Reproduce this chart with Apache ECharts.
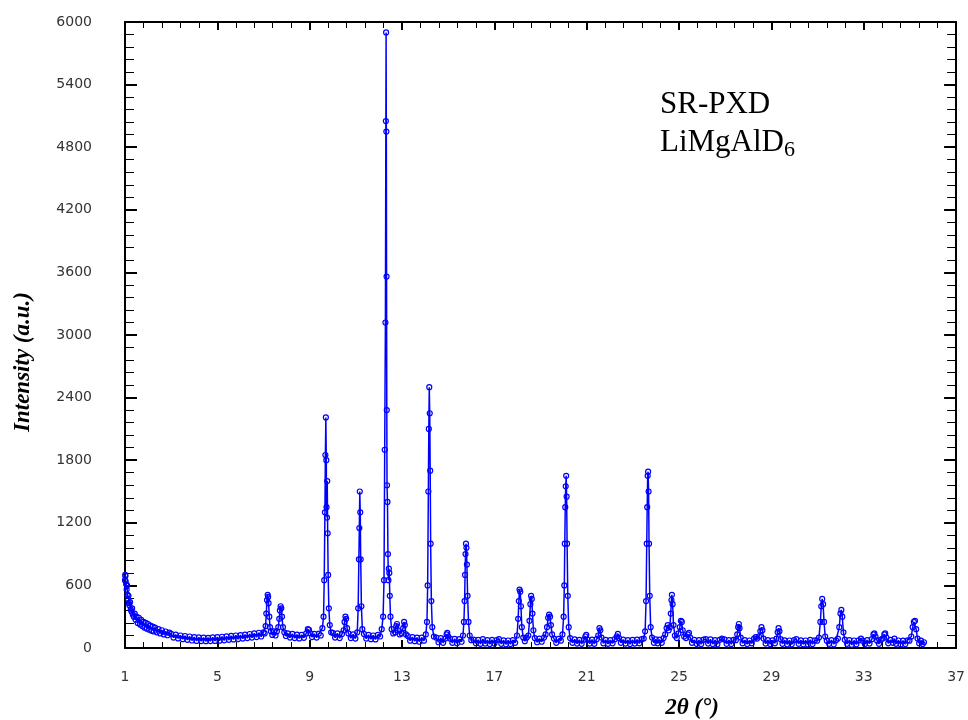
<!DOCTYPE html>
<html>
<head>
<meta charset="utf-8">
<script src="https://cdn.jsdelivr.net/npm/echarts@6/dist/echarts.min.js"></script>
<style>html,body{margin:0;padding:0;background:#fff;}#chart{width:968px;height:720px;}</style>
</head>
<body>
<div id="chart"></div>
<script>
// [2θ (°), intensity (a.u.)] pairs, split by region
const regionLow = [
[1.00,650],[1.01,700],[1.02,690],[1.03,640],[1.05,610],[1.07,560],[1.09,600],[1.11,510],[1.13,470],[1.15,500],
[1.17,430],[1.19,410],[1.22,440],[1.25,370],[1.28,350],[1.31,380],[1.34,320],[1.38,300],[1.42,330],[1.46,270],
[1.50,300],[1.55,240],[1.60,290],[1.65,225],[1.70,270],[1.75,210],[1.80,250],[1.85,195],[1.90,240],[1.95,185],
[2.00,230],[2.05,175],[2.10,215],[2.15,165],[2.20,205],[2.25,158],[2.30,195],[2.38,150],[2.45,180],[2.52,140],
[2.60,170],[2.68,130],[2.76,158],[2.84,122],[2.92,148],[3.00,135],[3.10,100],[3.20,128],[3.30,92],[3.40,120],
[3.50,85],[3.60,115],[3.70,78],[3.80,110],[3.90,72],[4.00,105],[4.10,68],[4.20,102],[4.30,66],[4.40,100],
[4.50,65],[4.60,98],[4.70,66],[4.80,102],[4.90,68],[5.00,105],[5.10,70],[5.20,108],[5.30,74],[5.40,112],
[5.50,78],[5.60,116],[5.70,82],[5.80,120],[5.90,86],[6.00,124],[6.10,90],[6.20,128],[6.30,95],[6.40,134],
[6.50,100],[6.60,140],[6.70,105],[6.80,146],[6.90,110],[7.00,150],[7.05,140],[7.09,210],[7.12,330],[7.15,460],
[7.18,510],[7.20,490],[7.22,430],[7.25,300],[7.28,200],[7.32,160],[7.38,125],[7.45,160],[7.52,120],[7.58,160],
[7.64,200],[7.68,280],[7.71,360],[7.74,400],[7.77,380],[7.80,300],[7.84,200],[7.90,150],[7.97,115],[8.05,140],
[8.15,100],[8.25,135],[8.35,95],[8.45,128],[8.55,92],[8.65,126],[8.75,98],[8.85,140],[8.92,180],[8.97,175],
[9.03,140],[9.10,105],[9.20,135],[9.30,100],[9.40,138],[9.48,120],[9.55,190]
];
const regionMid = [
[9.60,300],[9.63,650],[9.66,1300],[9.68,1850],[9.70,2210],[9.72,1800],[9.73,1350],[9.75,1250],[9.76,1600],[9.78,1100],
[9.80,700],[9.83,380],[9.87,220],[9.93,150],[10.00,145],[10.10,100],[10.20,140],[10.30,95],[10.40,135],[10.47,170],
[10.51,250],[10.55,300],[10.58,280],[10.62,190],[10.68,140],[10.78,95],[10.88,130],[10.98,90],[11.06,150],[11.10,380],
[11.13,850],[11.15,1150],[11.17,1500],[11.19,1300],[11.21,850],[11.24,400],[11.28,180],[11.35,135],[11.45,90],[11.55,125],
[11.65,85],[11.75,120],[11.85,82],[11.95,125],[12.05,110],[12.12,180],[12.18,300],[12.22,650],[12.25,1900],[12.28,3120],
[12.30,5050],[12.31,5900],[12.32,4950],[12.33,3560],[12.34,2280],[12.35,1560],[12.37,1400],[12.39,900],[12.41,650],[12.43,760],
[12.45,720],[12.47,500],[12.50,300],[12.55,180],[12.62,140],[12.70,150],[12.75,210],[12.78,230],[12.82,170],[12.90,130],
[12.98,140],[13.05,190],[13.09,250],[13.12,220],[13.17,130],[13.25,115],[13.35,70],[13.45,105],[13.55,65],[13.65,100],
[13.75,60],[13.85,100],[13.95,70],[14.03,130],[14.08,250],[14.11,600],[14.14,1500],[14.16,2100],[14.18,2500],[14.20,2250],
[14.22,1700],[14.24,1000],[14.27,450],[14.31,200],[14.38,110],[14.48,100],[14.58,55],[14.68,95],[14.78,50],[14.88,90],
[14.93,130],[14.96,145],[15.00,110],[15.08,90],[15.18,50],[15.28,88],[15.38,45],[15.48,85],[15.58,60],[15.64,120],
[15.68,250],[15.71,450],[15.73,700],[15.75,900],[15.77,1000],[15.79,960],[15.81,800],[15.84,500],[15.88,250],[15.93,120],
[16.00,75]
];
const regionHigh = [
[16.10,80],[16.20,45],[16.30,78],[16.40,40],[16.50,85],[16.60,42],[16.70,75],[16.80,38],[16.90,78],[17.00,42],
[17.10,76],[17.20,85],[17.30,40],[17.40,74],[17.50,36],[17.60,72],[17.70,38],[17.80,76],[17.90,50],[17.98,120],
[18.03,280],[18.06,450],[18.09,560],[18.12,540],[18.15,400],[18.19,200],[18.25,100],[18.32,65],[18.40,100],[18.47,120],
[18.52,260],[18.56,420],[18.59,500],[18.62,470],[18.65,330],[18.69,170],[18.75,95],[18.85,55],[18.95,90],[19.05,60],
[19.15,100],[19.22,130],[19.28,200],[19.33,290],[19.37,320],[19.41,300],[19.45,220],[19.50,130],[19.58,90],[19.68,50],
[19.78,88],[19.88,70],[19.95,130],[20.00,300],[20.03,600],[20.05,1000],[20.07,1350],[20.09,1550],[20.11,1650],[20.13,1450],
[20.15,1000],[20.18,500],[20.22,200],[20.28,95],[20.38,50],[20.48,82],[20.58,42],[20.68,78],[20.78,40],[20.88,80],
[20.94,110],[20.98,125],[21.03,80],[21.13,42],[21.23,80],[21.33,40],[21.43,85],[21.50,120],[21.55,190],[21.59,170],
[21.64,100],[21.72,45],[21.82,78],[21.92,40],[22.02,75],[22.12,45],[22.22,85],[22.30,110],[22.35,135],[22.40,95],
[22.48,50],[22.58,80],[22.68,42],[22.78,76],[22.88,38],[22.98,78],[23.08,42],[23.18,80],[23.28,45],[23.38,85],
[23.47,90],[23.53,160],[23.57,450],[23.60,1000],[23.62,1350],[23.64,1650],[23.66,1690],[23.68,1500],[23.70,1000],[23.73,500],
[23.77,200],[23.83,100],[23.91,50],[23.99,82]
];
const regionTail = [
[24.07,45],[24.15,80],[24.25,50],[24.33,95],[24.40,130],[24.46,190],[24.51,220],[24.55,170],[24.60,200],[24.64,330],
[24.67,460],[24.69,510],[24.72,420],[24.76,220],[24.82,120],[24.90,95],[24.97,140],[25.03,200],[25.08,260],[25.12,250],
[25.16,170],[25.22,110],[25.30,95],[25.38,130],[25.43,145],[25.48,100],[25.56,50],[25.66,78],[25.76,40],[25.86,75],
[25.96,38],[26.06,80],[26.16,85],[26.26,42],[26.36,82],[26.46,38],[26.56,75],[26.66,36],[26.76,78],[26.86,90],
[26.96,82],[27.06,40],[27.16,75],[27.26,38],[27.36,78],[27.46,75],[27.52,130],[27.56,200],[27.59,230],[27.62,190],
[27.67,100],[27.75,45],[27.85,76],[27.95,38],[28.05,72],[28.15,45],[28.25,90],[28.32,105],[28.38,90],[28.46,110],
[28.52,160],[28.57,200],[28.61,170],[28.66,90],[28.75,42],[28.85,76],[28.95,38],[29.05,74],[29.15,45],[29.22,90],
[29.27,150],[29.31,190],[29.35,160],[29.40,85],[29.48,40],[29.58,74],[29.68,36],[29.78,72],[29.88,35],[29.98,76],
[30.08,85],[30.18,40],[30.28,74],[30.38,36],[30.48,72],[30.58,34],[30.68,78],[30.78,38],[30.88,74],[30.98,70],
[31.06,100],[31.12,250],[31.16,400],[31.20,470],[31.24,420],[31.28,250],[31.33,110],[31.40,70],[31.50,40],[31.60,76],
[31.70,36],[31.80,74],[31.88,90],[31.94,200],[31.99,330],[32.03,365],[32.07,300],[32.12,150],[32.18,80],[32.28,40],
[32.38,76],[32.48,30],[32.58,72],[32.68,35],[32.78,74],[32.88,90],[32.95,70],[33.05,38],[33.15,75],[33.25,42],
[33.35,85],[33.42,130],[33.46,140],[33.51,110],[33.58,70],[33.66,40],[33.74,80],[33.82,90],[33.89,130],[33.93,140],
[33.98,100],[34.06,45],[34.16,78],[34.26,50],[34.33,90],[34.40,40],[34.50,72],[34.60,36],[34.70,70],[34.80,38],
[34.90,74],[34.98,70],[35.06,110],[35.12,200],[35.17,250],[35.22,260],[35.27,180],[35.33,90],[35.40,45],[35.48,70],
[35.55,38],[35.61,55]
];

const xTicks = { min: 1, max: 37, interval: 4 };
const yTicks = { min: 0, max: 6000, interval: 600 };

const pattern = regionLow.concat(regionMid, regionHigh, regionTail);

const chart = echarts.init(document.getElementById('chart'), null, { renderer: 'canvas' });

const axisLine = { show: true, onZero: false, lineStyle: { color: '#000', width: 2 } };
const labelFont = { color: '#333', fontFamily: 'DejaVu Sans', fontSize: 14, formatter: function (v) { return String(v); } };

function xAxisDef(pos, showLabel) {
  return {
    type: 'value', position: pos, min: xTicks.min, max: xTicks.max, interval: xTicks.interval,
    axisLine: axisLine,
    axisTick: { show: true, inside: true, length: 8, lineStyle: { color: '#000', width: 2 } },
    minorTick: { show: true, splitNumber: 5, length: 6, lineStyle: { color: '#000', width: 1 } },
    splitLine: { show: false }, minorSplitLine: { show: false },
    axisLabel: Object.assign({ show: showLabel, margin: 22 }, labelFont)
  };
}
function yAxisDef(pos, showLabel) {
  return {
    type: 'value', position: pos, min: yTicks.min, max: yTicks.max, interval: yTicks.interval,
    axisLine: axisLine,
    axisTick: { show: true, inside: true, length: 12, lineStyle: { color: '#000', width: 2 } },
    minorTick: { show: true, splitNumber: 5, length: 9, lineStyle: { color: '#000', width: 1 } },
    splitLine: { show: false }, minorSplitLine: { show: false },
    axisLabel: Object.assign({ show: showLabel, margin: 33 }, labelFont)
  };
}

const option = {
  animation: false,
  backgroundColor: '#fff',
  grid: { left: 125, right: 8, top: 22, bottom: 72, containLabel: false },
  xAxis: [xAxisDef('bottom', true), xAxisDef('top', false)],
  yAxis: [yAxisDef('left', true), yAxisDef('right', false)],
  series: [{
    type: 'line',
    xAxisIndex: 0, yAxisIndex: 0,
    data: pattern,
    symbol: 'circle',
    symbolSize: 5,
    showAllSymbol: true,
    itemStyle: { color: 'rgba(255,255,255,0)', borderColor: '#0000ff', borderWidth: 1.2 },
    lineStyle: { color: '#0000ff', width: 1.5 },
    emphasis: { disabled: true }
  }],
  graphic: [
    { type: 'text', x: 660, y: 105, style: { text: 'SR-PXD', font: '31px "Liberation Serif"', fill: '#000', verticalAlign: 'middle' } },
    { type: 'text', x: 660, y: 143, style: { text: 'LiMgAlD', font: '31px "Liberation Serif"', fill: '#000', verticalAlign: 'middle' } },
    { type: 'text', x: 784, y: 150, style: { text: '6', font: '22px "Liberation Serif"', fill: '#000', verticalAlign: 'middle' } },
    { type: 'text', x: 692, y: 708, style: { text: '2θ (°)', font: 'italic bold 23px "Liberation Serif"', fill: '#000', align: 'center', verticalAlign: 'middle' } },
    { type: 'text', x: 23, y: 362, rotation: Math.PI / 2, style: { text: 'Intensity (a.u.)', font: 'italic bold 23px "Liberation Serif"', fill: '#000', align: 'center', verticalAlign: 'middle' } }
  ]
};
chart.setOption(option);
</script>
</body>
</html>
